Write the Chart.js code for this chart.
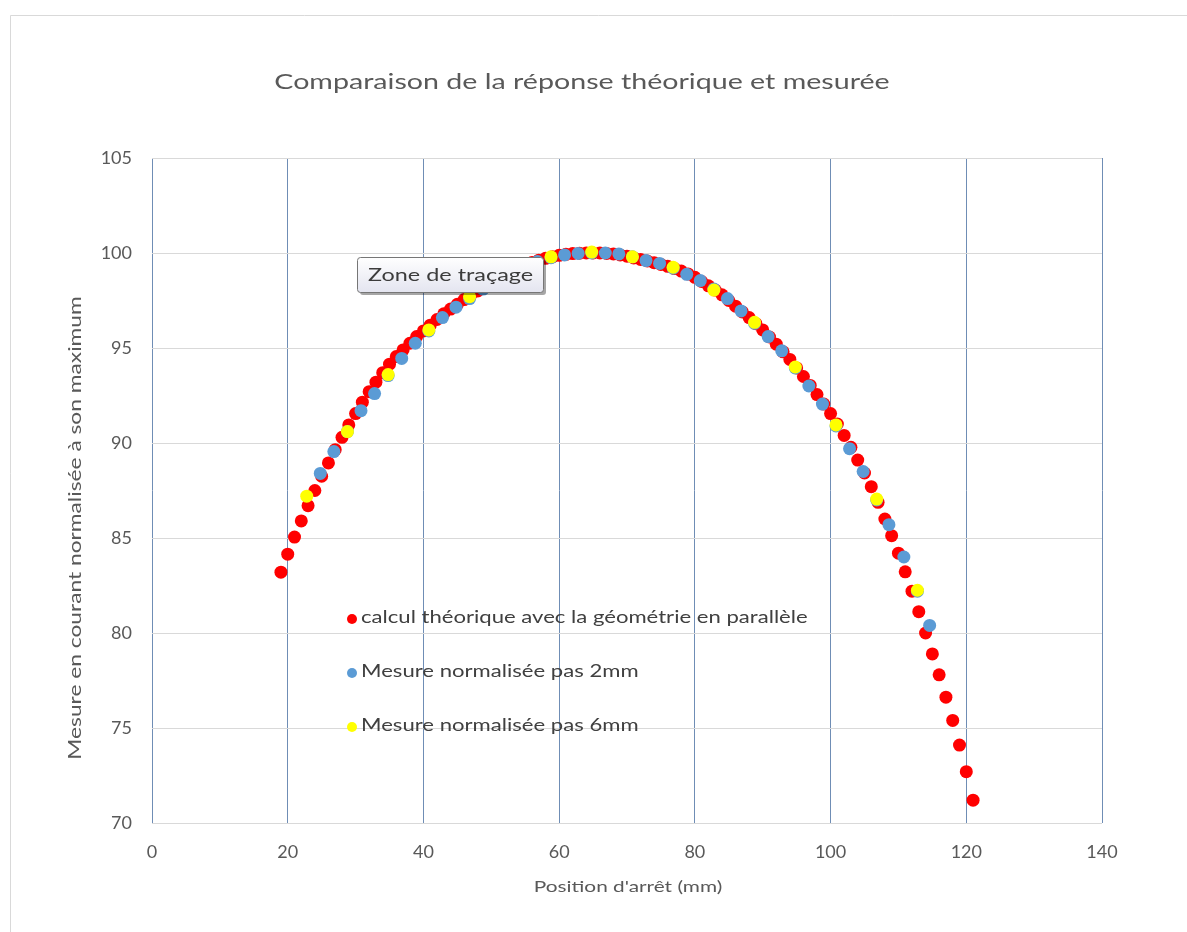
<!DOCTYPE html>
<html>
<head>
<meta charset="utf-8">
<script src="https://cdn.jsdelivr.net/npm/chart.js@4/dist/chart.umd.min.js"></script>
<style>
  html, body { margin: 0; padding: 0; background: #fff; }
  #wrap { width: 1187px; height: 932px; }
</style>
</head>
<body>
<div id="wrap"><canvas id="c" width="1187" height="932"></canvas></div>
<script>
// calcul théorique (pas 1 mm)
var theoX = [19,20,21,22,23,24,25,26,27,28,29,30,31,32,33,34,35,36,37,38,39,40,
  41,42,43,44,45,46,47,48,49,50,51,52,53,54,55,56,57,58,59,60,
  61,62,63,64,65,66,67,68,69,70,71,72,73,74,75,76,77,78,79,80,
  81,82,83,84,85,86,87,88,89,90,91,92,93,94,95,96,97,98,99,100,
  101,102,103,104,105,106,107,108,109,110,111,112,113,114,115,116,117,118,119,120,121];
var theoY = [83.2,84.15,85.05,85.9,86.7,87.5,88.25,88.95,89.65,90.3,90.95,91.55,92.15,92.7,93.2,93.7,94.15,94.55,94.9,95.25,95.6,95.9,
  96.2,96.5,96.8,97.05,97.3,97.55,97.8,98.0,98.25,98.45,98.65,98.85,99.05,99.2,99.35,99.5,99.62,99.72,99.8,99.88,
  99.93,99.97,99.99,100,100,100,99.98,99.95,99.9,99.83,99.74,99.66,99.58,99.49,99.4,99.3,99.18,99.05,98.9,98.72,
  98.5,98.27,98.05,97.8,97.5,97.2,96.9,96.6,96.28,95.95,95.58,95.2,94.8,94.4,93.95,93.5,93.03,92.55,92.05,91.55,
  91.0,90.4,89.77,89.1,88.42,87.7,86.88,86.0,85.12,84.2,83.22,82.2,81.12,80.0,78.9,77.8,76.62,75.4,74.1,72.7,71.2];

// mesure pas 2 mm
var pas2X = [24.8,26.8,28.8,30.8,32.8,34.8,36.8,38.8,40.8,42.8,44.8,46.8,48.8,50.8,52.8,54.8,56.8,58.8,60.8,62.8,64.8,66.8,
  68.8,70.8,72.8,74.8,76.8,78.8,80.8,82.8,84.8,86.8,88.8,90.8,92.8,94.8,96.8,98.8,100.8,102.8,104.8,106.8,108.6,110.8,112.8,114.6];
var pas2Y = [88.4,89.55,90.6,91.7,92.6,93.55,94.45,95.25,95.9,96.6,97.15,97.6,98.1,98.55,98.95,99.3,99.55,99.75,99.9,99.98,100,100,
  99.95,99.8,99.6,99.45,99.2,98.88,98.55,98.1,97.6,96.95,96.3,95.6,94.85,93.95,93.0,92.05,90.9,89.7,88.5,87.0,85.7,84.0,82.2,80.4];

// mesure pas 6 mm
var pas6X = [22.8,28.8,34.8,40.8,46.8,52.8,58.8,64.8,70.8,76.8,82.8,88.8,94.8,100.8,106.8,112.8];
var pas6Y = [87.2,90.6,93.6,95.95,97.7,99.0,99.8,100.05,99.8,99.25,98.05,96.35,94.0,90.95,87.05,82.25];

var seriesNames = ['calcul théorique avec la géométrie en parallèle', 'Mesure normalisée pas 2mm', 'Mesure normalisée pas 6mm'];
var seriesColors = ['#ff0000', '#5b9bd5', '#ffff00'];

var titleText = 'Comparaison de la réponse théorique et mesurée';
var xTitle = "Position d'arrêt (mm)";
var yTitle = 'Mesure en courant normalisée à son maximum';
var noteText = 'Zone de traçage';

var FONT = 'Lato, "Open Sans", sans-serif';
var STRETCH = 1.3; // texte Calibri de la capture, plus large que Lato

function pairs(xs, ys) {
  return xs.map(function (x, i) { return { x: x, y: ys[i] }; });
}

// écrit un texte élargi horizontalement
function wideText(ctx, text, x, y, align, rot) {
  ctx.save();
  ctx.translate(x, y);
  if (rot) ctx.rotate(rot);
  ctx.scale(STRETCH, 1);
  ctx.textAlign = align;
  ctx.textBaseline = 'middle';
  ctx.fillText(text, 0, 0);
  ctx.restore();
}

function roundRect(ctx, x, y, w, h, r) {
  ctx.beginPath();
  ctx.moveTo(x + r, y);
  ctx.lineTo(x + w - r, y);
  ctx.quadraticCurveTo(x + w, y, x + w, y + r);
  ctx.lineTo(x + w, y + h - r);
  ctx.quadraticCurveTo(x + w, y + h, x + w - r, y + h);
  ctx.lineTo(x + r, y + h);
  ctx.quadraticCurveTo(x, y + h, x, y + h - r);
  ctx.lineTo(x, y + r);
  ctx.quadraticCurveTo(x, y, x + r, y);
  ctx.closePath();
}

var decor = {
  id: 'decor',
  beforeDraw: function (chart) {
    var ctx = chart.ctx;
    ctx.save();
    ctx.fillStyle = '#fff';
    ctx.fillRect(0, 0, chart.width, chart.height);
    // cadre du graphique
    ctx.strokeStyle = '#d9d9d9';
    ctx.lineWidth = 1;
    ctx.beginPath();
    ctx.moveTo(10.5, chart.height);
    ctx.lineTo(10.5, 15.5);
    ctx.lineTo(chart.width, 15.5);
    ctx.stroke();
    ctx.restore();
  },
  afterDraw: function (chart) {
    var ctx = chart.ctx;
    ctx.save();
    ctx.fillStyle = '#595959';

    // titre
    ctx.font = '22px ' + FONT;
    wideText(ctx, titleText, 582, 82, 'center');

    // titres des axes
    ctx.font = '16px ' + FONT;
    wideText(ctx, xTitle, 628, 887, 'center');
    ctx.font = '17.5px ' + FONT;
    wideText(ctx, yTitle, 75, 528, 'center', -Math.PI / 2);

    // légende
    ctx.font = '17px ' + FONT;
    chart.data.datasets.forEach(function (ds, i) {
      var yy = 618 + i * 54;
      ctx.fillStyle = ds.backgroundColor;
      ctx.beginPath();
      ctx.arc(352, yy + 1, 5, 0, Math.PI * 2);
      ctx.fill();
      ctx.fillStyle = '#404040';
      wideText(ctx, ds.label, 361, yy, 'left');
    });

    // info-bulle "Zone de traçage"
    var bx = 357, by = 257, bw = 186, bh = 35;
    ctx.fillStyle = 'rgba(0,0,0,0.35)';
    roundRect(ctx, bx + 3, by + 3, bw, bh, 3);
    ctx.fill();
    var g = ctx.createLinearGradient(0, by, 0, by + bh);
    g.addColorStop(0, '#ffffff');
    g.addColorStop(1, '#e4e5f0');
    ctx.fillStyle = g;
    roundRect(ctx, bx + 0.5, by + 0.5, bw, bh, 3);
    ctx.fill();
    ctx.strokeStyle = '#767676';
    ctx.lineWidth = 1;
    ctx.stroke();
    ctx.fillStyle = '#3c3c3c';
    ctx.font = '18px ' + FONT;
    wideText(ctx, noteText, 368, by + bh / 2 + 1, 'left');
    ctx.restore();
  }
};

var datasets = [0, 1, 2].map(function (i) {
  var xs = [theoX, pas2X, pas6X][i];
  var ys = [theoY, pas2Y, pas6Y][i];
  return {
    label: seriesNames[i],
    data: pairs(xs, ys),
    backgroundColor: seriesColors[i],
    borderWidth: 0,
    pointRadius: 6.5,
    pointHoverRadius: 6.5,
    order: 3 - i
  };
});

new Chart(document.getElementById('c'), {
  type: 'scatter',
  data: { datasets: datasets },
  options: {
    responsive: false,
    animation: false,
    layout: { padding: { left: 0, top: 158, right: 85, bottom: 0 } },
    plugins: {
      legend: { display: false },
      tooltip: { enabled: false },
      title: { display: false }
    },
    scales: {
      x: {
        type: 'linear',
        min: 0, max: 140,
        afterFit: function (s) { s.height = 109; },
        ticks: { stepSize: 20, color: '#595959', font: { family: FONT, size: 18 }, padding: 18 },
        grid: { color: '#6f8db5', lineWidth: 1, drawTicks: false },
        border: { display: false }
      },
      y: {
        min: 70, max: 105,
        afterFit: function (s) { s.width = 152; },
        ticks: { stepSize: 5, color: '#595959', font: { family: FONT, size: 18 }, padding: 20 },
        grid: { color: '#d9d9d9', lineWidth: 1, drawTicks: false },
        border: { display: false }
      }
    }
  },
  plugins: [decor]
});
</script>
</body>
</html>
